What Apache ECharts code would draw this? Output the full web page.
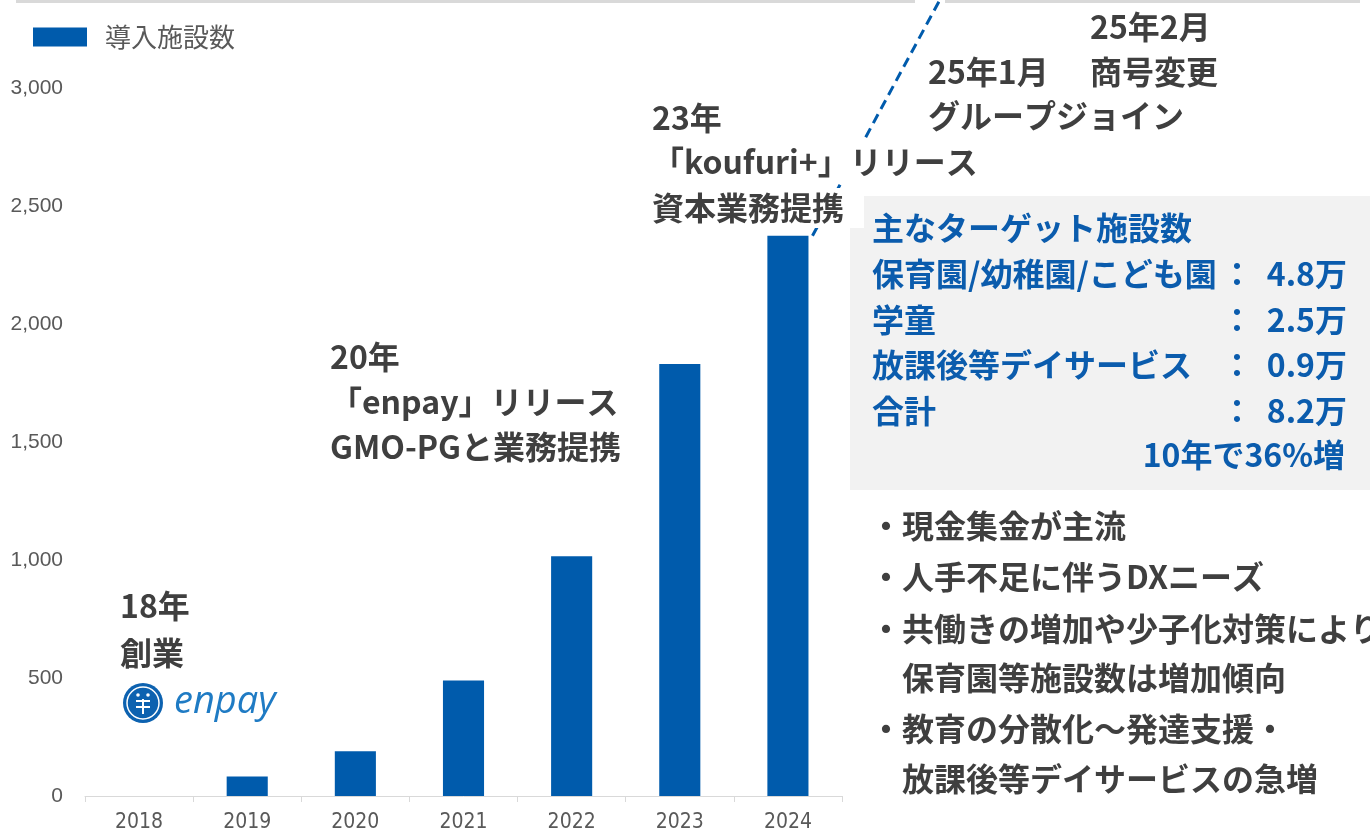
<!DOCTYPE html>
<html>
<head>
<meta charset="utf-8">
<script src="https://cdn.jsdelivr.net/npm/echarts@6/dist/echarts.min.js"></script>
<style>
  html, body { margin: 0; padding: 0; background: #fff; }
  #chart { width: 1370px; height: 834px; }
</style>
</head>
<body>
<div id="chart"></div>
<script>
const years = ['2018', '2019', '2020', '2021', '2022', '2023', '2024']
const facilities = [0, 83, 190, 489, 1016, 1830, 2374]
const seriesName = '導入施設数'
const yMax = 3000
const yStep = 500

const targetTitle = '主なターゲット施設数'
const targetNames = ['保育園/幼稚園/こども園', '学童', '放課後等デイサービス', '合計']
const targetValues = ['4.8万', '2.5万', '0.9万', '8.2万']
const targetNote = '10年で36%増'

const bullets = ['・現金集金が主流', '・人手不足に伴うDXニーズ', '・共働きの増加や少子化対策により', '　保育園等施設数は増加傾向', '・教育の分散化～発達支援・', '　放課後等デイサービスの急増']

const blue = '#005bac'
const boxBlue = '#0b5cad'
const darkText = '#3f3f3f'
const axisText = '#595959'
const jp = '"Noto Sans CJK JP", "Noto Sans", sans-serif'

const chart = echarts.init(document.getElementById('chart'))

function txt(text, x, y, extra) {
  return {
    type: 'text',
    x: x,
    y: y,
    z: 10,
    style: Object.assign({
      text: text,
      fill: darkText,
      fontSize: 32,
      fontWeight: 'bold',
      fontFamily: jp,
      textVerticalAlign: 'middle'
    }, extra || {})
  }
}

const option = {
  animation: false,
  legend: {
    data: [seriesName],
    icon: 'rect',
    left: 33,
    top: 24,
    padding: 0,
    itemWidth: 54,
    itemHeight: 19,
    textStyle: {
      color: axisText,
      fontSize: 26,
      fontFamily: jp,
      padding: [0, 0, 0, 13]
    }
  },
  grid: {
    left: 85,
    right: 528,
    top: 88,
    bottom: 38
  },
  xAxis: {
    type: 'category',
    data: years,
    axisLine: { lineStyle: { color: '#d9d9d9', width: 1 } },
    axisTick: { show: true, length: 6, lineStyle: { color: '#d9d9d9' } },
    axisLabel: {
      color: axisText,
      fontSize: 21,
      fontFamily: '"Liberation Sans Narrow", "DejaVu Sans Condensed", "Liberation Sans", sans-serif',
      margin: 16
    }
  },
  yAxis: {
    type: 'value',
    min: 0,
    max: yMax,
    interval: yStep,
    axisLine: { show: false },
    axisTick: { show: false },
    splitLine: { show: false },
    axisLabel: {
      color: axisText,
      fontSize: 21,
      fontFamily: '"Liberation Sans", sans-serif',
      margin: 22,
      formatter: v => v.toLocaleString('en-US')
    }
  },
  series: [
    {
      name: seriesName,
      type: 'bar',
      barWidth: '38%',
      itemStyle: { color: blue },
      data: facilities
    }
  ]
}
chart.setOption(option)

// dashed leader from the top of the last bar up to the page edge
const last = years.length - 1
const p0 = chart.convertToPixel({ seriesIndex: 0 }, [0, 0])
const p1 = chart.convertToPixel({ seriesIndex: 0 }, [1, 0])
const topPt = chart.convertToPixel({ seriesIndex: 0 }, [last, facilities[last]])
const halfBar = (p1[0] - p0[0]) * 0.38 / 2
const sx = topPt[0] + halfBar + 4
const sy = topPt[1]
const ex = sx + sy * 0.54

const graphic = [
  { type: 'rect', z: 1, shape: { x: 16, y: 0, width: 899, height: 3 }, style: { fill: '#d9d9d9' } },
  { type: 'rect', z: 1, shape: { x: 945, y: 0, width: 415, height: 3 }, style: { fill: '#d9d9d9' } },
  { type: 'rect', z: 1, shape: { x: 850, y: 196, width: 520, height: 294 }, style: { fill: '#f2f2f2' } },
  {
    type: 'line', z: 5,
    shape: { x1: sx, y1: sy, x2: ex, y2: 0 },
    style: { stroke: blue, lineWidth: 3, lineDash: [10, 6] }
  },
  // enpay logo
  { type: 'circle', z: 10, shape: { cx: 143, cy: 703, r: 20 }, style: { fill: '#0d62b0' } },
  { type: 'circle', z: 11, shape: { cx: 143, cy: 703, r: 16 }, style: { fill: 'none', stroke: '#fff', lineWidth: 1.5 } },
  { type: 'circle', z: 11, shape: { cx: 138, cy: 695, r: 1.8 }, style: { fill: '#fff' } },
  { type: 'circle', z: 11, shape: { cx: 148, cy: 695, r: 1.8 }, style: { fill: '#fff' } },
  { type: 'line', z: 11, shape: { x1: 136, y1: 701, x2: 150, y2: 701 }, style: { stroke: '#fff', lineWidth: 2 } },
  { type: 'line', z: 11, shape: { x1: 136, y1: 707, x2: 150, y2: 707 }, style: { stroke: '#fff', lineWidth: 2 } },
  { type: 'line', z: 11, shape: { x1: 143, y1: 699, x2: 143, y2: 714 }, style: { stroke: '#fff', lineWidth: 2 } },
  txt('enpay', 174, 702, { fill: '#1f7bc4', fontSize: 38, fontWeight: 'normal', fontStyle: 'italic', fontFamily: '"Open Sans", sans-serif' }),

  txt('18年', 120, 606),
  txt('創業', 120, 653),
  txt('20年', 330, 357),
  txt('「enpay」リリース', 330, 402),
  txt('GMO-PGと業務提携', 330, 447),
  txt('23年', 652, 118),
  txt('「koufuri+」リリース', 652, 162, { backgroundColor: '#fff', lineHeight: 43 }),
  txt('資本業務提携', 652, 208, { backgroundColor: '#fff', lineHeight: 40, padding: [0, 20, 0, 0] }),
  txt('25年2月', 1090, 27),
  txt('25年1月', 928, 72),
  txt('商号変更', 1090, 72),
  txt('グループジョイン', 928, 116),

  txt(targetTitle, 872, 228, { fill: boxBlue })
]

targetNames.forEach((name, i) => {
  const y = 274 + i * 45.5
  graphic.push(txt(name, 872, y, { fill: boxBlue }))
  graphic.push(txt('：', 1237, y, { fill: boxBlue, textAlign: 'center' }))
  graphic.push(txt(targetValues[i], 1347, y, { fill: boxBlue, textAlign: 'right' }))
})
graphic.push(txt(targetNote, 1345, 455, { fill: boxBlue, textAlign: 'right' }))

const bulletY = [526, 577, 629, 678, 729, 779]
bullets.forEach((b, i) => {
  graphic.push(txt(b, 870, bulletY[i]))
})

chart.setOption({ graphic: graphic })
</script>
</body>
</html>
